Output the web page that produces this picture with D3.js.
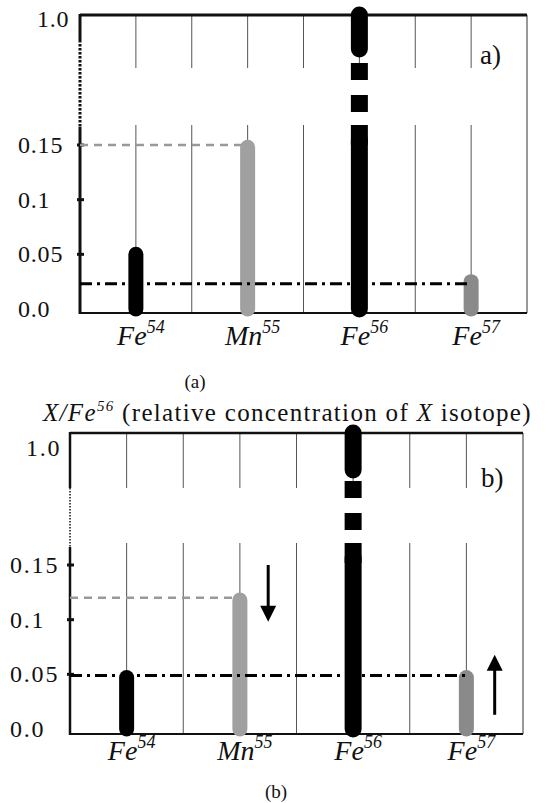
<!DOCTYPE html>
<html><head><meta charset="utf-8">
<script src="https://cdn.jsdelivr.net/npm/d3@7"></script>
<style>body{margin:0;background:#fff} svg{display:block} text{font-family:"Liberation Serif","Times New Roman",serif;fill:#111}</style>
</head><body><svg id="c" width="550" height="803"></svg>
<script>
// ---- data ----
const elements = ["Fe","Mn","Fe","Fe"];
const masses = ["54","55","56","57"];
const valuesA = [0.05, 0.148, 1.0, 0.025];
const valuesB = [0.047, 0.118, 1.0, 0.047];
const barColors = ["#000","#a0a0a0","#000","#8a8a8a"];
const tickValues = [0, 0.05, 0.1, 0.15, 1.0];
const tickLabels = ["0.0","0.05","0.1","0.15","1.0"];
const refA = {dashed: 0.15, dashdot: 0.023};
const refB = {dashed: 0.12, dashdot: 0.049};
const arrowsB = [{i:1, from:0.15, to:0.098}, {i:3, from:0.013, to:0.068}];

const svg = d3.select("#c");

function panel(cfg){
  const g = svg.append("g");
  const x = d3.scaleBand().domain(d3.range(elements.length)).range([cfg.left, cfg.right]).padding(0);
  const y = d3.scaleLinear().domain([0, 0.15, 1.0]).range([cfg.y0, cfg.y15, cfg.top]);
  const bw = x.bandwidth();
  const top = cfg.top;
  // grid lines (broken)
  const gx = [];
  elements.forEach((e,i)=>{ if(i>0) gx.push(x(i)); gx.push(x(i)+bw/2); });
  gx.forEach(v=>{
    g.append("line").attr("x1",v).attr("x2",v).attr("y1",top).attr("y2",top+cfg.gapStart)
      .attr("stroke","#555").attr("stroke-width",1);
    g.append("line").attr("x1",v).attr("x2",v).attr("y1",top+110).attr("y2",cfg.bottom)
      .attr("stroke","#555").attr("stroke-width",1);
  });
  // frame
  g.append("line").attr("x1",cfg.right).attr("x2",cfg.right).attr("y1",top).attr("y2",cfg.bottom)
    .attr("stroke","#777").attr("stroke-width",1.5);
  g.append("line").attr("x1",cfg.left).attr("x2",cfg.right).attr("y1",top).attr("y2",top)
    .attr("stroke","#111").attr("stroke-width",cfg.topW);
  g.append("line").attr("x1",cfg.left).attr("x2",cfg.right).attr("y1",cfg.bottom).attr("y2",cfg.bottom)
    .attr("stroke","#111").attr("stroke-width",2);
  // left axis with break
  g.append("line").attr("x1",cfg.left).attr("x2",cfg.left).attr("y1",top-1).attr("y2",top+cfg.axSolid)
    .attr("stroke","#111").attr("stroke-width",cfg.axW);
  g.append("line").attr("x1",cfg.left).attr("x2",cfg.left).attr("y1",top+cfg.axSolid).attr("y2",top+cfg.axDotEnd)
    .attr("stroke","#111").attr("stroke-width",cfg.dotW).attr("stroke-dasharray",cfg.dotDash);
  g.append("line").attr("x1",cfg.left).attr("x2",cfg.left).attr("y1",top+cfg.axDotEnd).attr("y2",cfg.bottom+1)
    .attr("stroke","#111").attr("stroke-width",cfg.axW);
  // ticks and labels
  tickValues.forEach((v,k)=>{
    if(v>0 && v<1) g.append("line").attr("x1",cfg.left-3).attr("x2",cfg.left+4).attr("y1",y(v)).attr("y2",y(v))
      .attr("stroke","#111").attr("stroke-width",3);
    const isTop = v===1.0;
    g.append("text").attr("x", isTop?cfg.topLabX:cfg.labX).attr("y", isTop?cfg.topLabY:y(v)+8)
      .attr("font-size",24).attr("letter-spacing",cfg.ls).text(tickLabels[k]);
  });
  // reference lines
  g.append("line").attr("x1",cfg.left).attr("x2",x(1)+bw/2).attr("y1",y(cfg.ref.dashed)).attr("y2",y(cfg.ref.dashed))
    .attr("stroke","#999").attr("stroke-width",2.5).attr("stroke-dasharray","8,6");
  // bars
  const vals = cfg.values;
  vals.forEach((v,i)=>{
    const cx = x(i)+bw/2;
    const w = i===2 ? 17 : 15;
    if(v<1){
      g.append("line").attr("x1",cx).attr("x2",cx).attr("y1",y(0)).attr("y2",y(v))
        .attr("stroke",barColors[i]).attr("stroke-width",w).attr("stroke-linecap","round");
    } else {
      g.append("line").attr("x1",cx).attr("x2",cx).attr("y1",y(v)).attr("y2",y(v)+cfg.roundLen)
        .attr("stroke",barColors[i]).attr("stroke-width",w).attr("stroke-linecap","round");
      [[48,65],[80,97]].forEach(s=>{
        g.append("rect").attr("x",cx-w/2).attr("width",w).attr("y",top+s[0]).attr("height",s[1]-s[0]).attr("fill",barColors[i]);
      });
      g.append("line").attr("x1",cx).attr("x2",cx).attr("y1",y(0)).attr("y2",top+125)
        .attr("stroke",barColors[i]).attr("stroke-width",w).attr("stroke-linecap","round");
      g.append("rect").attr("x",cx-w/2).attr("width",w).attr("y",top+110).attr("height",20).attr("fill",barColors[i]);
    }
  });
  // dash-dot line on top
  g.append("line").attr("x1",cfg.left).attr("x2",x(3)+bw/2).attr("y1",y(cfg.ref.dashdot)).attr("y2",y(cfg.ref.dashdot))
    .attr("stroke","#000").attr("stroke-width",3).attr("stroke-dasharray","12,5,3,5");
  // x labels
  elements.forEach((e,i)=>{
    const t = g.append("text").attr("x",x(i)+bw/2+5).attr("y",cfg.xlabY).attr("text-anchor","middle")
      .attr("font-style","italic").attr("font-size",28);
    t.append("tspan").text(e);
    t.append("tspan").attr("font-size",18).attr("dy",-12).text(masses[i]);
  });
  // arrows
  (cfg.arrows||[]).forEach(a=>{
    const ax = x(a.i)+bw/2+bw/4;
    const dir = a.to>a.from ? -1 : 1; // screen direction of tip
    const yt = y(a.to), yf = y(a.from);
    g.append("line").attr("x1",ax).attr("x2",ax).attr("y1",yf).attr("y2",yt - dir*12)
      .attr("stroke","#000").attr("stroke-width",3);
    g.append("path").attr("d",`M${ax-8},${yt-dir*16}L${ax+8},${yt-dir*16}L${ax},${yt}Z`).attr("fill","#000");
  });
  // panel label
  g.append("text").attr("x",cfg.plX).attr("y",cfg.plY).attr("font-size",27).text(cfg.pl);
  g.append("text").attr("x",cfg.capX).attr("y",cfg.capY).attr("text-anchor","middle").attr("font-size",19).text(cfg.cap);
}

panel({left:80,right:527,top:15,y0:309,y15:145,bottom:313,topW:3,axW:3,axSolid:25,axDotEnd:112,dotW:3,dotDash:"2.5,1.5",
  gapStart:53,roundLen:34,labX:18,topLabX:37,topLabY:27,ls:0.8,values:valuesA,ref:refA,xlabY:345,
  pl:"a)",plX:480,plY:64,cap:"(a)",capX:195,capY:388});
panel({left:70,right:523,top:433,y0:729,y15:565,bottom:734,topW:2.5,axW:2.5,axSolid:55,axDotEnd:114,dotW:1.5,dotDash:"1.5,1.5",
  gapStart:55,roundLen:37,labX:10,topLabX:26,topLabY:456,ls:1.8,values:valuesB,ref:refB,xlabY:760,arrows:arrowsB,
  pl:"b)",plX:481,plY:487,cap:"(b)",capX:276,capY:798});

// title of panel b
const title = svg.append("text").attr("x",43).attr("y",421).attr("font-size",25);
title.append("tspan").attr("font-style","italic").text("X/Fe");
title.append("tspan").attr("font-size",15).attr("dy",-10).attr("font-style","italic").text("56");
title.append("tspan").attr("dy",10).text(" (relative concentration of ");
title.append("tspan").attr("font-style","italic").text("X");
title.append("tspan").text(" isotope)");
const w = title.node().getBBox().width;
const nch = title.text().length;
title.attr("letter-spacing", ((490 - w)/nch).toFixed(2));
</script></body></html>
